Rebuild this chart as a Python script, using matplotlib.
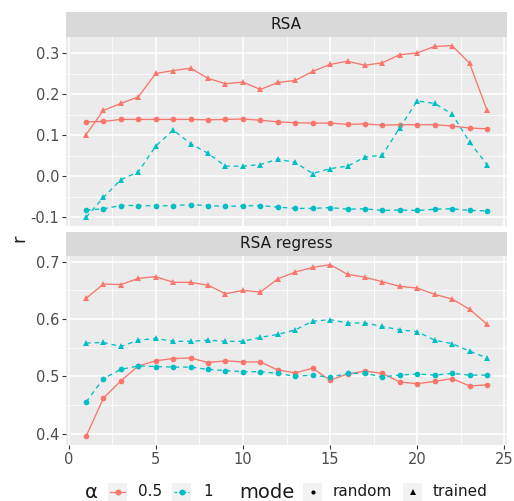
import matplotlib
matplotlib.use("Agg")
import matplotlib.pyplot as plt
from matplotlib.lines import Line2D
import numpy as np

layers = list(range(1, 25))

# RSA panel
rsa_05_trained = [0.102, 0.161, 0.178, 0.194, 0.251, 0.258, 0.264, 0.239, 0.226, 0.230, 0.212, 0.229,
                  0.234, 0.256, 0.273, 0.281, 0.271, 0.277, 0.297, 0.301, 0.317, 0.319, 0.276, 0.162]
rsa_05_random = [0.133, 0.134, 0.139, 0.139, 0.139, 0.139, 0.139, 0.138, 0.139, 0.140, 0.137, 0.133,
                 0.131, 0.130, 0.130, 0.127, 0.128, 0.125, 0.126, 0.126, 0.126, 0.123, 0.118, 0.116]
rsa_1_trained = [-0.100, -0.051, -0.008, 0.011, 0.074, 0.113, 0.080, 0.056, 0.025, 0.025, 0.029, 0.042,
                 0.034, 0.007, 0.019, 0.025, 0.047, 0.052, 0.119, 0.184, 0.178, 0.152, 0.084, 0.029]
rsa_1_random = [-0.082, -0.079, -0.071, -0.071, -0.072, -0.071, -0.069, -0.071, -0.073, -0.072, -0.071, -0.075,
                -0.078, -0.078, -0.076, -0.080, -0.079, -0.083, -0.082, -0.083, -0.080, -0.079, -0.083, -0.084]

# RSA regress panel
reg_05_trained = [0.636, 0.661, 0.660, 0.671, 0.674, 0.664, 0.664, 0.659, 0.644, 0.650, 0.647, 0.670,
                  0.682, 0.690, 0.695, 0.678, 0.673, 0.665, 0.657, 0.654, 0.643, 0.635, 0.617, 0.591]
reg_05_random = [0.395, 0.462, 0.492, 0.518, 0.527, 0.531, 0.532, 0.524, 0.527, 0.525, 0.525, 0.511,
                 0.506, 0.514, 0.493, 0.504, 0.509, 0.505, 0.490, 0.487, 0.491, 0.496, 0.483, 0.485]
reg_1_trained = [0.558, 0.559, 0.552, 0.563, 0.566, 0.561, 0.561, 0.563, 0.561, 0.561, 0.568, 0.573,
                 0.581, 0.596, 0.599, 0.593, 0.593, 0.587, 0.581, 0.578, 0.563, 0.557, 0.544, 0.532]
reg_1_random = [0.455, 0.496, 0.512, 0.518, 0.517, 0.516, 0.516, 0.512, 0.510, 0.508, 0.508, 0.505,
                0.500, 0.502, 0.498, 0.505, 0.505, 0.499, 0.502, 0.504, 0.502, 0.505, 0.502, 0.502]

RED = "#F8766D"
CYAN = "#00BFC4"
W, H = 514, 501

fig = plt.figure(figsize=(W / 100, H / 100), dpi=100)


def fbox(x0, y0, x1, y1):
    # pixel box -> figure fraction [left, bottom, width, height]
    return [x0 / W, 1 - y1 / H, (x1 - x0) / W, (y1 - y0) / H]


ax1 = fig.add_axes(fbox(66, 37, 507, 226))
ax2 = fig.add_axes(fbox(66, 256, 507, 445), sharex=ax1)


def draw(ax, s05t, s05r, s1t, s1r):
    ax.plot(layers, s05r, color=RED, lw=0.95, marker="o", ms=4.1, mew=0)
    ax.plot(layers, s05t, color=RED, lw=0.95, marker="^", ms=4.8, mew=0)
    ax.plot(layers, s1r, color=CYAN, lw=0.95, ls=(0, (3.5, 3)), marker="o", ms=4.1, mew=0)
    ax.plot(layers, s1t, color=CYAN, lw=0.95, ls=(0, (3.5, 3)), marker="^", ms=4.8, mew=0)
    ax.set_facecolor("#EBEBEB")
    ax.margins(x=0.05, y=0.05)
    for sp in ax.spines.values():
        sp.set_visible(False)
    ax.grid(True, which="major", color="white", lw=1.1)
    ax.grid(True, which="minor", color="white", lw=0.55)
    ax.set_axisbelow(True)
    ax.tick_params(which="major", length=2.8, width=0.8, color="#333333",
                   labelcolor="#4D4D4D", labelsize=10.5, pad=2)
    ax.tick_params(which="minor", length=0)


draw(ax1, rsa_05_trained, rsa_05_random, rsa_1_trained, rsa_1_random)
draw(ax2, reg_05_trained, reg_05_random, reg_1_trained, reg_1_random)

ax1.set_xticks([0, 5, 10, 15, 20, 25])
ax1.set_xticks([2.5, 7.5, 12.5, 17.5, 22.5], minor=True)
ax1.set_yticks([-0.1, 0.0, 0.1, 0.2, 0.3])
ax1.set_yticklabels(["-0.1", "0.0", "0.1", "0.2", "0.3"])
ax1.set_yticks([-0.05, 0.05, 0.15, 0.25], minor=True)
ax1.tick_params(axis="x", labelbottom=False, length=0)
ax2.set_yticks([0.4, 0.5, 0.6, 0.7])
ax2.set_yticks([0.45, 0.55, 0.65], minor=True)
ax1.set_xlim(-0.15, 25.15)

# facet strips
for box, label in [((66, 12, 507, 37), "RSA"), ((66, 232, 507, 256), "RSA regress")]:
    sax = fig.add_axes(fbox(*box))
    sax.set_facecolor("#D9D9D9")
    sax.set_xticks([])
    sax.set_yticks([])
    for sp in sax.spines.values():
        sp.set_visible(False)
    sax.text(0.5, 0.5, label, ha="center", va="center", fontsize=11, color="#1A1A1A",
             transform=sax.transAxes)

fig.text(19 / W, 1 - 238 / H, "r", rotation=90, ha="center", va="center", fontsize=13, color="#1A1A1A")

# legend (ggplot-style, horizontal at bottom)
ly = 1 - 492 / H
fig.text(91 / W, ly, "α", ha="center", va="center", fontsize=14, color="#1A1A1A")
keys = [
    (108, RED, "-", "o", 4.3, "0.5", 138),
    (172, CYAN, (0, (2, 1.5)), "o", 4.3, "1", 203),
    (303, "black", "None", "o", 3, "random", 333),
    (403, "black", "None", "^", 4, "trained", 433),
]
fig.text(239 / W, ly, "mode", ha="left", va="center", fontsize=14, color="#1A1A1A")
for x0, col, ls, mk, ms, lab, tx in keys:
    kax = fig.add_axes(fbox(x0, 483, x0 + 19, 501))
    kax.set_facecolor("#F2F2F2")
    kax.set_xlim(0, 1)
    kax.set_ylim(0, 1)
    kax.set_xticks([])
    kax.set_yticks([])
    for sp in kax.spines.values():
        sp.set_visible(False)
    if ls != "None":
        kax.add_line(Line2D([0.1, 0.9], [0.5, 0.5], color=col, lw=0.95, ls=ls))
    kax.add_line(Line2D([0.5], [0.5], color=col, marker=mk, ms=ms, mew=0, ls="None"))
    fig.text(tx / W, ly, lab, ha="left", va="center", fontsize=11, color="#1A1A1A")

fig.savefig("out.png", dpi=100)
